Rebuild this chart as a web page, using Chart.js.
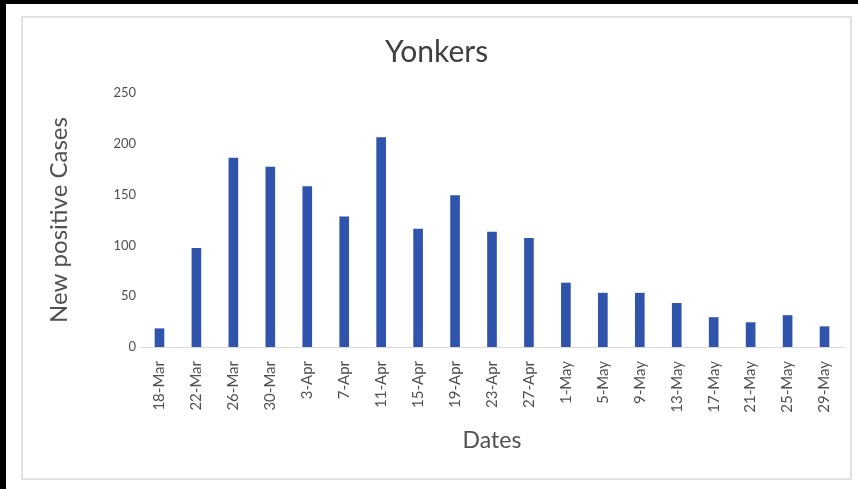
<!DOCTYPE html>
<html>
<head>
<meta charset="utf-8">
<title>Yonkers</title>
<script src="https://cdn.jsdelivr.net/npm/chart.js@4/dist/chart.umd.min.js"></script>
<style>
  html, body { margin: 0; padding: 0; background: #000; }
  body { width: 858px; height: 489px; position: relative; overflow: hidden; }
  #sheet { position: absolute; left: 6px; top: 4px; right: 0; bottom: 0; background: #fff; }
  #frame { position: absolute; left: 21px; top: 16px; width: 827px; height: 460px; border: 2px solid #e2e2e2; }
  #wrap { position: absolute; left: 0; top: 0; width: 858px; height: 489px; }
</style>
</head>
<body>
<div id="sheet"></div>
<div id="frame"></div>
<div id="wrap"><canvas id="casesChart"></canvas></div>
<script>
// new positive cases, sampled every 4 days
const dates = ["18-Mar", "22-Mar", "26-Mar", "30-Mar", "3-Apr", "7-Apr", "11-Apr", "15-Apr",
  "19-Apr", "23-Apr", "27-Apr", "1-May", "5-May", "9-May", "13-May", "17-May", "21-May",
  "25-May", "29-May"];
const newCases = [18, 97, 186, 177, 158, 128, 206, 116, 149, 113, 107, 63, 53, 53, 43, 29, 24, 31, 20];
const yTicks = [0, 50, 100, 150, 200, 250];

const FONT = "Lato, 'Open Sans', sans-serif";
const GREY = "#505050";

const ctx = document.getElementById("casesChart").getContext("2d");

new Chart(ctx, {
  type: "bar",
  data: {
    labels: dates,
    datasets: [
      {
        label: "New positive Cases",
        data: newCases,
        backgroundColor: "#3053ac",
        barThickness: 9,
      },
    ],
  },
  options: {
    responsive: true,
    maintainAspectRatio: false,
    animation: false,
    layout: {
      padding: { left: 30, right: 15, top: 0, bottom: 29 },
    },
    plugins: {
      legend: { display: false },
      tooltip: { enabled: false },
      title: {
        display: true,
        text: "Yonkers",
        color: "#404040",
        font: { family: FONT, size: 30, weight: "normal" },
        padding: { top: 34, bottom: 23 },
      },
    },
    scales: {
      x: {
        offset: true,
        grid: { display: false },
        border: { display: true, color: "#d9d9d9", width: 1 },
        ticks: {
          color: GREY,
          font: { family: FONT, size: 15 },
          minRotation: 90,
          maxRotation: 90,
          padding: 6,
          autoSkip: false,
        },
        title: {
          display: true,
          text: "Dates",
          color: GREY,
          font: { family: FONT, size: 23 },
          padding: { top: 0, bottom: 6 },
        },
        afterFit: (scale) => {
          scale.height = 113;
        },
      },
      y: {
        min: 0,
        max: 250,
        grid: { display: false, drawTicks: false },
        border: { display: false },
        afterBuildTicks: (scale) => {
          scale.ticks = yTicks.map((v) => ({ value: v }));
        },
        ticks: {
          color: GREY,
          font: { family: FONT, size: 13 },
          padding: 5,
        },
        title: {
          display: true,
          text: "New positive Cases",
          color: GREY,
          font: { family: FONT, size: 24 },
          padding: { top: 15, bottom: 0 },
        },
        afterFit: (scale) => {
          scale.width = 111;
        },
      },
    },
  },
});
</script>
</body>
</html>
